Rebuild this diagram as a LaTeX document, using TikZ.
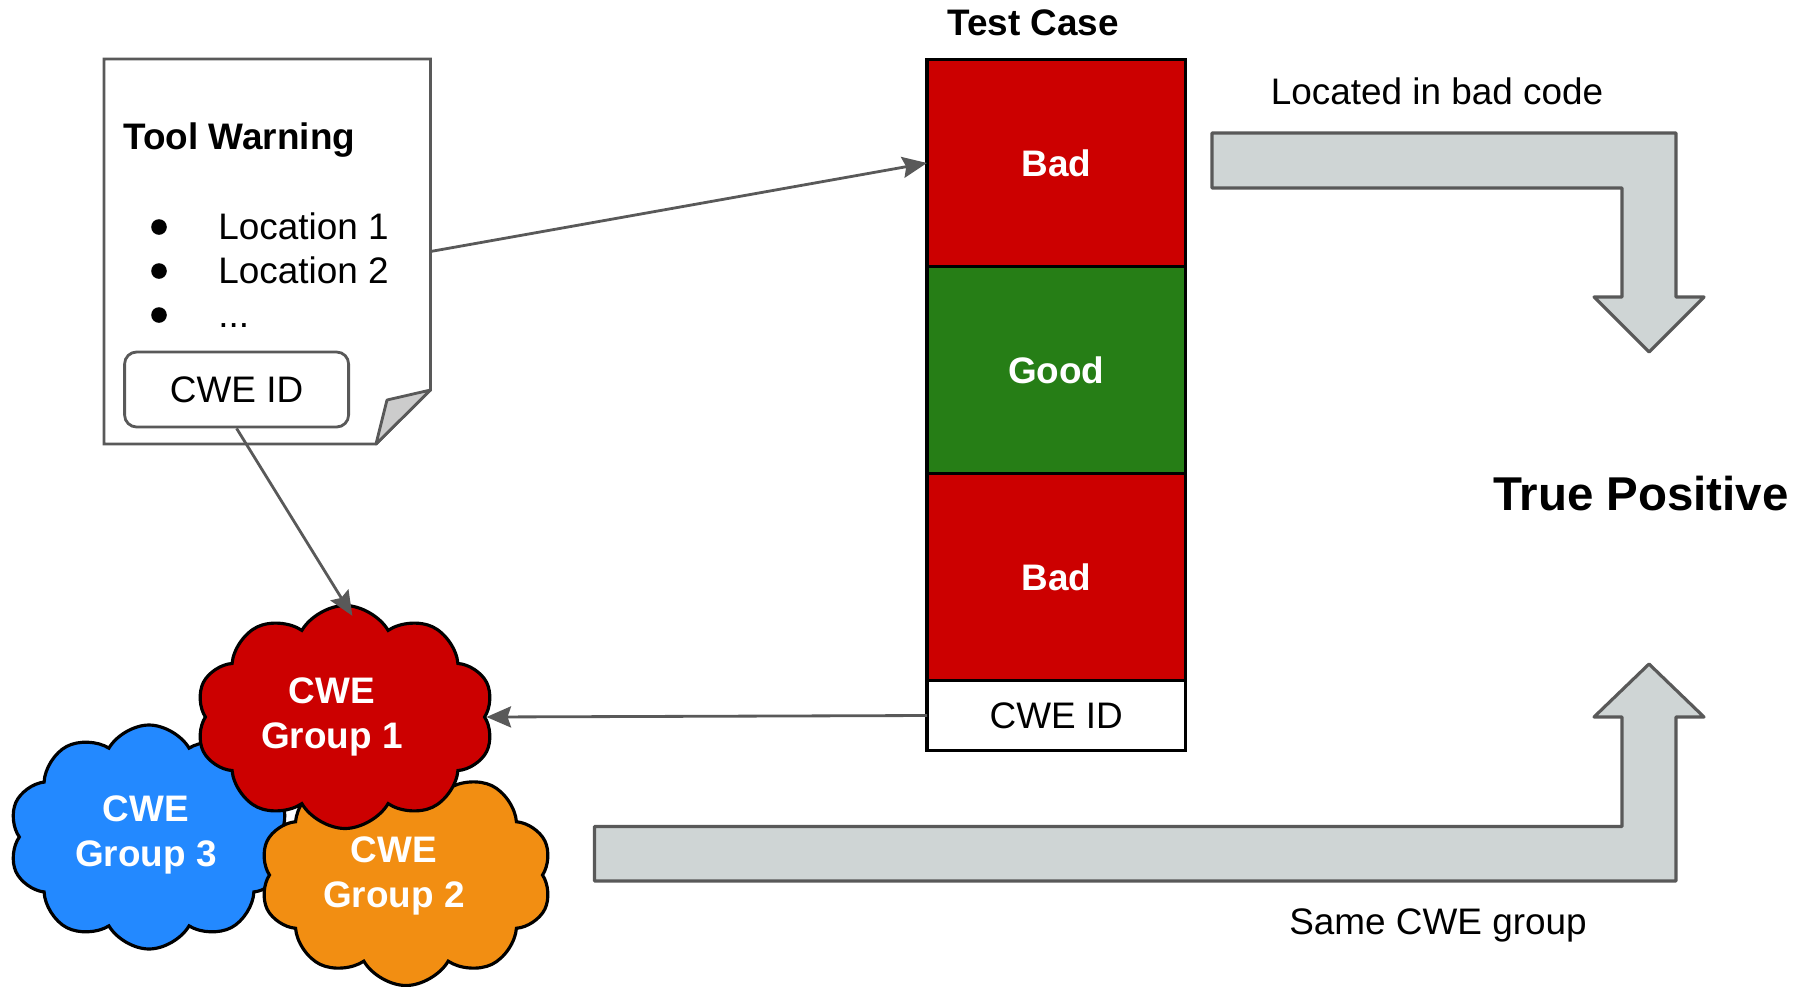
\documentclass[tikz,border=0pt]{standalone}
\usepackage{xcolor}
\usepackage{fontspec}
\setmainfont{Liberation Sans}
\usepackage{tikz}
\usetikzlibrary{positioning, arrows.meta, shapes.symbols, calc}

\definecolor{badred}{HTML}{CC0000}
\definecolor{goodgreen}{HTML}{267E16}
\definecolor{cweblue}{HTML}{2389FF}
\definecolor{cweorange}{HTML}{F28E12}
\definecolor{pfeilgrau}{HTML}{CFD5D5}
\definecolor{liniengrau}{HTML}{595959}
\definecolor{knickgrau}{HTML}{CCCCCC}

\begin{document}
\begin{tikzpicture}[
		>={Stealth[inset=1pt, length=7pt, width=6pt]}, % graue Pfeilspitzen
		every node/.style={font=\fontsize{10.5}{12.6}\selectfont},
		block/.style={
			draw=black,
			line width=0.9pt,
			minimum width=2.585cm,
			minimum height=2.07cm,
			outer sep=0pt,
			text=white,
			font=\fontsize{10.5}{12.6}\selectfont\bfseries},
		wolke/.style={
			cloud,
			cloud puffs=10,
			cloud puff arc=120,
			cloud ignores aspect,
			draw=black,
			line width=0.9pt,
			inner sep=0pt},
		wolketext/.style={
			align=center,
			text=white,
			font=\fontsize{10.5}{12.6}\selectfont\bfseries},
		verbindung/.style={->, draw=liniengrau, line width=0.8pt},
		grosspfeil/.style={draw=liniengrau, fill=pfeilgrau, line width=0.9pt, line join=round}
		]
		\useasboundingbox (0,0) rectangle (18.10,9.86);
		
		% 1. Tool-Warnung als Dokument mit Eselsohr
		\node[minimum width=3.265cm, minimum height=3.85cm, inner sep=0pt, outer sep=0pt] (warn) at (2.6725,7.345) {};
		\draw[liniengrau, line width=0.8pt, fill=white]
		(warn.north west) -- (warn.north east) -- ($(warn.south east)+(0,0.54)$)
		-- ($(warn.south east)+(-0.545,0)$) -- (warn.south west) -- cycle;
		\draw[liniengrau, line width=0.8pt, fill=knickgrau, line join=round]
		($(warn.south east)+(0,0.54)$) -- ($(warn.south east)+(-0.435,0.44)$)
		-- ($(warn.south east)+(-0.545,0)$) -- cycle;
		
		\node[anchor=west, font=\fontsize{10.5}{12.6}\selectfont\bfseries] (warntitel) at (1.11,8.455) {Tool Warning};
		\foreach \y/\i in {7.59/1, 7.15/2} {
			\fill (1.59,\y) circle (0.078);
			\node[anchor=west, text height=1.6ex, text depth=0.3ex] (loc\i) at (2.06,\y) {Location \i};
		}
		\fill (1.59,6.71) circle (0.078);
		\node[anchor=west, text height=1.6ex, text depth=0.3ex] (loc3) at (2.06,6.71) {.\kern0pt.\kern0pt.};
		\node[draw=liniengrau, line width=0.8pt, rounded corners=0.12cm, fill=white,
		minimum width=2.24cm, minimum height=0.75cm] (docid) at (2.366,5.965) {CWE ID};
		
		% 2. Testfall: Bad / Good / Bad / CWE ID
		\node[font=\fontsize{10.5}{12.6}\selectfont\bfseries] (testcase) at (10.33,9.63) {Test Case};
		\node[block, fill=badred] (bad1) at (10.5625,8.23) {Bad};
		\node[block, fill=goodgreen, below=0pt of bad1] (good) {Good};
		\node[block, fill=badred, below=0pt of good] (bad2) {Bad};
		\node[block, fill=white, text=black, minimum height=0.70cm,
		font=\fontsize{10.5}{12.6}\selectfont, below=0pt of bad2] (stackid) {CWE ID};
		
		% 3. CWE-Gruppen als Wolken
		\node[wolke, fill=cweblue, minimum width=2.80cm, minimum height=2.24cm] (g3) at (1.49,1.49) {};
		\node[wolketext] (g3text) at ($(g3)+(-0.03,0.02)$) {CWE\\Group 3};
		\node[wolke, fill=cweorange, minimum width=2.92cm, minimum height=2.21cm] (g2) at (4.06,1.11) {};
		\node[wolketext] (g2text) at ($(g2)+(-0.12,-0.01)$) {CWE\\Group 2};
		\node[wolke, fill=badred, minimum width=2.98cm, minimum height=2.23cm] (g1) at (3.45,2.69) {};
		\node[wolketext] (g1text) at ($(g1)+(-0.13,0.0)$) {CWE\\Group 1};
		
		% Verbindungen
		\draw[verbindung] (warn.east) -- (bad1.west);
		\draw[verbindung, shorten >=-0.14cm] (docid.south) -- (g1.north);
		\draw[verbindung] (stackid.west) -- (g1.east);
		
		% 4. Grosse Pfeile zum Ergebnis
		\draw[grosspfeil] (12.12,8.53) -- (16.76,8.53) -- (16.76,6.89) -- (17.04,6.89)
		-- (16.49,6.34) -- (15.94,6.89) -- (16.22,6.89) -- (16.22,7.98) -- (12.12,7.98) -- cycle;
		\draw[grosspfeil] (5.945,1.05) -- (16.76,1.05) -- (16.76,2.69) -- (17.04,2.69)
		-- (16.49,3.22) -- (15.94,2.69) -- (16.22,2.69) -- (16.22,1.595) -- (5.945,1.595) -- cycle;
		
		\node (badcode) at (14.37,8.95) {Located in bad code};
		\node (samegroup) at (14.38,0.605) {Same CWE group};
		\node[font=\fontsize{13.5}{16}\selectfont\bfseries] (truepos) at (16.41,4.92) {True Positive};
		
	\end{tikzpicture}
\end{document}
